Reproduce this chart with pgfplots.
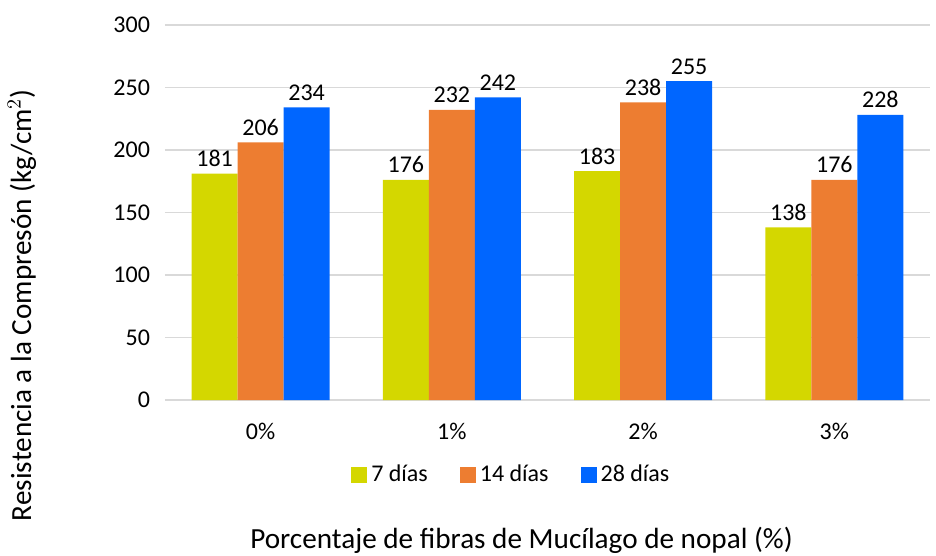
\documentclass[border=0pt]{standalone}
\usepackage{pgfplots}
\pgfplotsset{compat=1.18}
\usepackage{fontspec}
\setmainfont{Carlito}
\definecolor{cYel}{HTML}{D4D700}
\definecolor{cOra}{HTML}{ED7D31}
\definecolor{cBlu}{HTML}{0066FF}
\definecolor{cGrid}{HTML}{D9D9D9}
\begin{document}
\begin{tikzpicture}
\begin{axis}[
  name=ax,
  scale only axis,
  width=382.5pt, height=187.5pt,
  ybar=0pt, bar width=23pt,
  xmin=-0.5, xmax=3.5,
  ymin=0, ymax=300,
  ytick={0,50,...,300},
  xtick={0,1,2,3},
  xticklabels={0\%,1\%,2\%,3\%},
  axis line style={draw=none},
  major tick length=0pt,
  ymajorgrids, grid style={cGrid, line width=0.6pt},
  ticklabel style={font=\fontsize{12}{14}\selectfont},
  /pgf/number format/assume math mode=true,
  yticklabel style={xshift=-4pt},
  xticklabel style={yshift=-8pt},
  nodes near coords,
  every node near coord/.append style={font=\fontsize{12}{14}\selectfont, black},
  legend style={draw=none, font=\fontsize{12}{14}\selectfont, at={(axis description cs:0.454,-0.2)}, anchor=center, legend columns=3, /tikz/every even column/.append style={column sep=14pt}},
  legend image code/.code={\fill[#1] (0pt,-4pt) rectangle (8pt,4pt);},
  xlabel={Porcentaje de fibras de Mucílago de nopal (\%)},
  ylabel={Resistencia a la Compresón (kg/cm$^{2}$)},
  label style={font=\fontsize{14.6}{16}\selectfont},
  xlabel style={at={(axis description cs:0.466,-0.374)}, anchor=center},
  ylabel style={at={(axis description cs:-0.187,0.253)}, anchor=center, rotate=0},
]
\addplot[fill=cYel, draw=none] coordinates {(0,181) (1,176) (2,183) (3,138)};
\addplot[fill=cOra, draw=none] coordinates {(0,206) (1,232) (2,238) (3,176)};
\addplot[fill=cBlu, draw=none] coordinates {(0,234) (1,242) (2,255) (3,228)};
\legend{7 días, 14 días, 28 días}
\end{axis}
\pgfresetboundingbox
\useasboundingbox ([xshift=-82.5pt,yshift=-78pt]ax.south west) rectangle ([xshift=3pt,yshift=12.5pt]ax.north east);
\end{tikzpicture}
\end{document}
